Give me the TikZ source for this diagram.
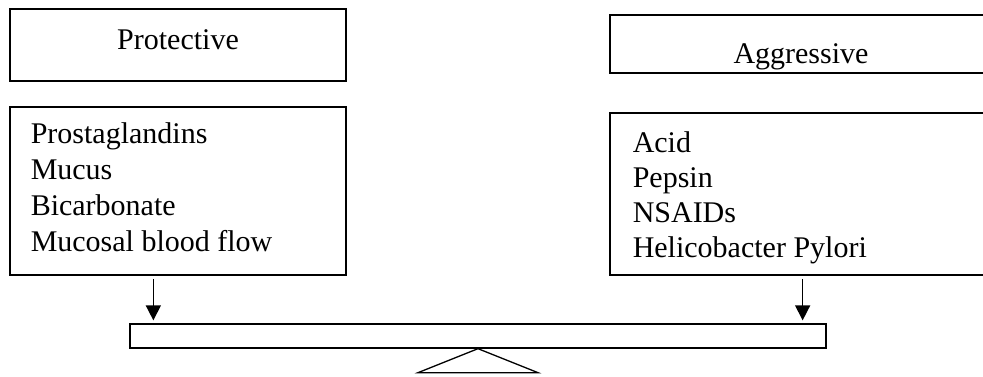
\documentclass[tikz,border=0pt]{standalone}
\usepackage{fontspec}
\setmainfont{Liberation Serif}
\usetikzlibrary{arrows.meta}
\tikzset{every node/.style={inner sep=0pt,font=\fontsize{30}{36}\selectfont},
  boxframe/.style={draw,line width=1.6pt,rectangle},
  beamframe/.style={draw,line width=1.3pt,rectangle},
  weight/.style={-{Triangle[length=15pt,width=15pt]},shorten <=3pt,shorten >=3pt}}

\begin{document}
\begin{tikzpicture}[x=1pt,y=-1pt,line width=1.5pt]
       \useasboundingbox (0,0) rectangle (983,376);
       \clip (0,0) rectangle (983,376);
       % protective side
       \node[boxframe,minimum width=336pt,minimum height=72pt] (prothead) at (178,45) {};
       \node[anchor=base] (protlbl) at (178,49) {Protective};
       \node[boxframe,minimum width=336pt,minimum height=168pt] (protlist) at (178,191) {};
       \foreach \t [count=\i] in {Prostaglandins,Mucus,Bicarbonate,Mucosal blood flow}
         \node[anchor=base west] (prot\i) at (30,{143+36*(\i-1)}) {\t};
       % aggressive side
       \node[boxframe,minimum width=382pt,minimum height=58pt] (agghead) at (801,44) {};
       \node[anchor=base] (agglbl) at (801,63) {Aggressive};
       \node[boxframe,minimum width=382pt,minimum height=162pt] (agglist) at (801,194) {};
       \foreach \t [count=\i] in {Acid,Pepsin,NSAIDs,Helicobacter Pylori}
         \node[anchor=base west] (agg\i) at (632,{152+35*(\i-1)}) {\t};
       % balance
       \node[beamframe,minimum width=696pt,minimum height=24pt] (beam) at (478,336) {};
       \draw[line width=1.3pt] (beam.south) -- ++(60,24) -- ++(-120,0) -- cycle;
       \coordinate (lp) at ([xshift=24pt]beam.north west);
       \coordinate (rp) at ([xshift=-24pt]beam.north east);
       \draw[weight] (protlist.south -| lp) -- (lp);
       \draw[weight] (agglist.south -| rp) -- (rp);
      \end{tikzpicture}
\end{document}
